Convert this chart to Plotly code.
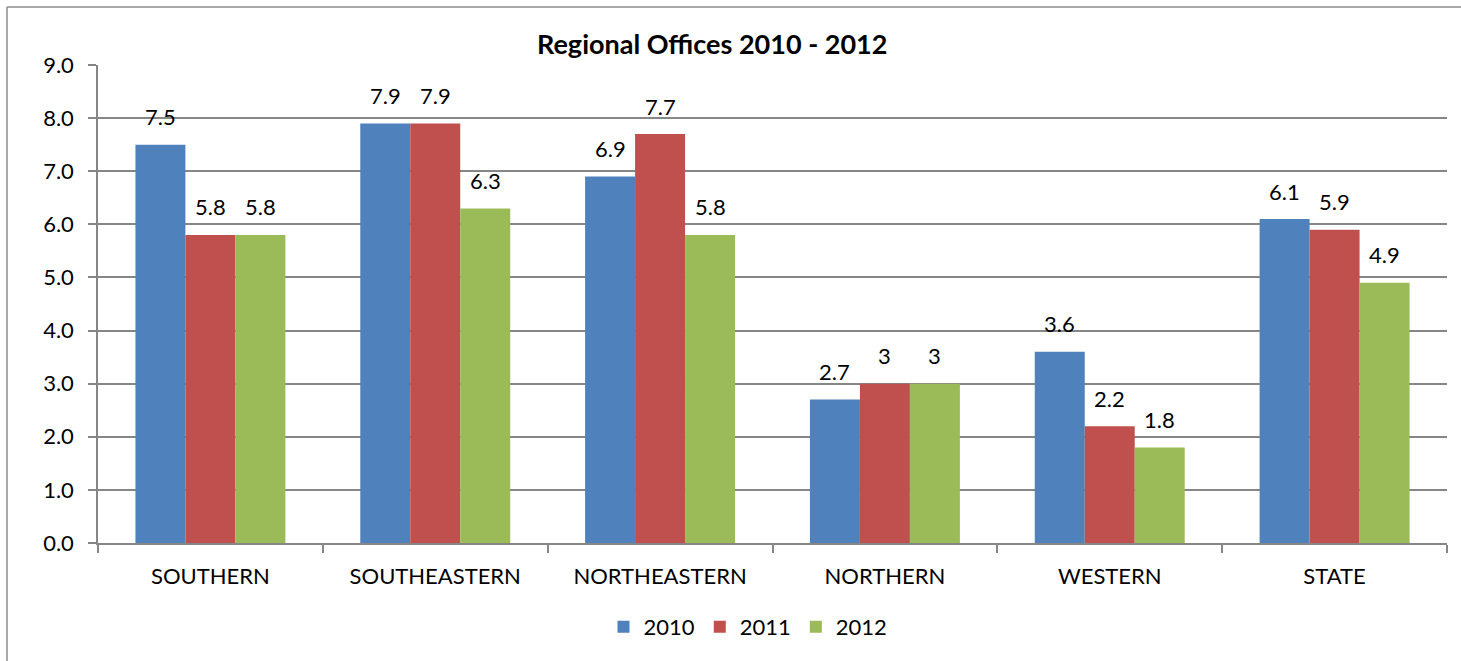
import plotly.graph_objects as go

categories = ["SOUTHERN", "SOUTHEASTERN", "NORTHEASTERN", "NORTHERN", "WESTERN", "STATE"]
series_names = ["2010", "2011", "2012"]
values_2010 = [7.5, 7.9, 6.9, 2.7, 3.6, 6.1]
values_2011 = [5.8, 7.9, 7.7, 3.0, 2.2, 5.9]
values_2012 = [5.8, 6.3, 5.8, 3.0, 1.8, 4.9]
colors = ["#4F81BD", "#C0504D", "#9BBB59"]

all_values = [values_2010, values_2011, values_2012]

W, H = 1461, 661
ML, MR, MT, MB = 98, 14, 65, 118
plot_w = W - ML - MR
plot_h = H - MT - MB
bargap = 0.333
cat_w = plot_w / len(categories)
bar_w = cat_w * (1 - bargap) / len(series_names)

FONT = "Lato"
FS = 22

fig = go.Figure()
for j, (name, vals) in enumerate(zip(series_names, all_values)):
    fig.add_trace(go.Bar(
        x=categories, y=vals, name=name,
        marker=dict(color=colors[j], line=dict(width=0)),
    ))

def fmt(v):
    return str(int(v)) if float(v).is_integer() else f"{v:.1f}"

annotations = []
for j, vals in enumerate(all_values):
    for i, v in enumerate(vals):
        annotations.append(dict(
            x=categories[i], y=v, xref="x", yref="y",
            text=fmt(v), showarrow=False,
            xshift=(j - 1) * bar_w, yshift=28,
            font=dict(family=FONT, size=FS, color="#000000"),
        ))

annotations.append(dict(
    x=(712 - ML) / plot_w, y=(H - MB - 43) / plot_h, xref="paper", yref="paper",
    text="<b>Regional Offices 2010 - 2012</b>", showarrow=False,
    xanchor="center", yanchor="middle",
    font=dict(family=FONT, size=27, color="#000000"),
))

def px_x(p):
    return (p - ML) / plot_w

def px_y(p):
    return ((H - MB) - p) / plot_h

frame_style = dict(color="#8C8C8C", width=1.5)
shapes = [
    dict(type="line", xref="paper", yref="paper", layer="below",
         x0=px_x(7), x1=px_x(W), y0=px_y(7), y1=px_y(7), line=frame_style),
    dict(type="line", xref="paper", yref="paper", layer="below",
         x0=px_x(7), x1=px_x(7), y0=px_y(7), y1=px_y(H), line=frame_style),
]

fig.update_layout(
    width=W, height=H,
    margin=dict(l=ML, r=MR, t=MT, b=MB, pad=0),
    paper_bgcolor="white", plot_bgcolor="white",
    barmode="group", bargap=bargap, bargroupgap=0,
    font=dict(family=FONT, size=FS, color="#000000"),
    showlegend=True,
    legend=dict(
        orientation="h", x=(748 - ML) / plot_w, xanchor="center",
        y=-(627 - (H - MB)) / plot_h, yanchor="middle",
        font=dict(family=FONT, size=FS), itemwidth=30, traceorder="normal",
    ),
    annotations=annotations,
    shapes=shapes,
    xaxis=dict(
        showline=True, linecolor="#868686", linewidth=1.5,
        ticks="outside", ticklen=8, tickcolor="#868686", tickwidth=1.5,
        tickson="boundaries", showgrid=False,
        ticklabelstandoff=13,
        tickfont=dict(family=FONT, size=FS),
    ),
    yaxis=dict(
        range=[0, 9], dtick=1, tickformat=".1f",
        showline=True, linecolor="#868686", linewidth=1.5,
        ticks="outside", ticklen=8, tickcolor="#868686", tickwidth=1.5,
        showgrid=True, gridcolor="#868686", gridwidth=1.5,
        zeroline=False, ticklabelstandoff=10,
        tickfont=dict(family=FONT, size=FS),
    ),
)

fig.write_html(
    "out.html",
    config={"displayModeBar": False},
    post_script="document.body.style.margin='0';document.body.style.overflow='hidden';",
)
